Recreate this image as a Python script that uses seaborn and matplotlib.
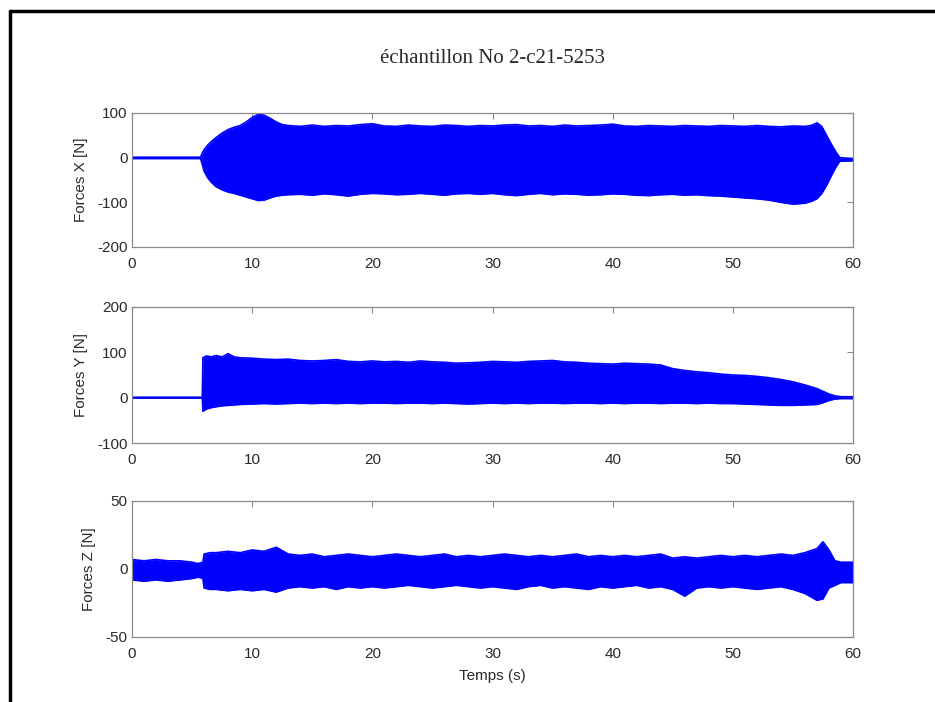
import numpy as np
import pandas as pd
import matplotlib
matplotlib.use("Agg")
import matplotlib.pyplot as plt
import seaborn as sns

# ---------------- data (envelopes) ----------------
title = "échantillon No 2-c21-5253"
xlabel = "Temps (s)"
ylabels = ["Forces X [N]", "Forces Y [N]", "Forces Z [N]"]
xticks = [0, 10, 20, 30, 40, 50, 60]
yticks_x = [-200, -100, 0, 100]
yticks_y = [-100, 0, 100, 200]
yticks_z = [-50, 0, 50]

t_x = [0, 5.7, 5.85, 6.0, 6.3, 6.6,
       7.0, 7.5, 8.0, 8.5, 9.0, 9.5,
       10.0, 10.5, 11.0, 11.5, 12.0, 12.5,
       13, 14, 15, 16, 17, 18, 19, 20, 21, 22, 23, 24, 25, 26, 27, 28, 29, 30,
       31, 32, 33, 34, 35, 36, 37, 38, 39, 40, 41, 42, 43, 44, 45, 46, 47, 48,
       49, 50, 51, 52, 53, 54, 55, 56,
       56.5, 57.0, 57.4, 57.8, 58.2, 58.6, 58.9, 60]
upper_x = [1, 1, 10, 18, 28, 36,
           45, 55, 63, 68, 72, 80,
           90, 97, 95, 88, 80, 74,
           72, 70, 73, 70, 72, 71, 74, 76, 71, 70, 73, 71, 70, 73, 72, 70, 72, 71,
           73, 74, 71, 72, 70, 73, 71, 72, 73, 75, 71, 70, 72, 71, 70, 72, 71, 70,
           72, 71, 70, 72, 70, 69, 71, 70,
           72, 78, 70, 50, 30, 12, 0, -2]
lower_x = [-2, -2, -15, -30, -45, -55,
           -65, -72, -77, -80, -84, -88,
           -92, -96, -95, -90, -86, -84,
           -83, -82, -84, -81, -83, -86, -82, -80, -81, -83, -82, -80, -82, -84, -81, -80, -82, -80,
           -83, -85, -82, -80, -83, -81, -82, -84, -83, -81, -82, -84, -85, -83, -82, -84, -83, -85,
           -86, -88, -90, -92, -95, -100, -104, -102,
           -98, -92, -80, -62, -40, -20, -8, -7]

t_y = [0, 5.85, 5.9, 6.2, 6.6, 7.0, 7.5, 8.0, 8.5,
       9, 10, 11, 12, 13, 14, 15, 16, 17, 18, 19, 20, 21, 22, 23, 24, 25, 26, 27, 28,
       29, 30, 31, 32, 33, 34, 35, 36, 37, 38, 39, 40, 41, 42, 43, 44, 45, 46, 47, 48,
       49, 50, 51, 52, 53, 54, 55, 56, 57,
       57.5, 58, 58.5, 59, 60]
upper_y = [1, 1, 88, 92, 90, 93, 90, 97, 90,
           88, 87, 85, 84, 85, 82, 81, 82, 84, 80, 79, 81, 79, 80, 78, 81, 79, 78, 76, 77,
           78, 80, 79, 78, 80, 81, 82, 79, 78, 76, 75, 74, 76, 75, 74, 72, 64, 60, 57, 55,
           52, 50, 49, 47, 44, 40, 35, 28, 20,
           14, 8, 4, 2, 2]
lower_y = [-1, -1, -30, -25, -22, -20, -18, -17, -16,
           -15, -14, -13, -14, -13, -12, -13, -12, -13, -12, -13, -12, -12, -13, -12, -12, -13, -12, -13, -14,
           -13, -12, -13, -12, -13, -12, -12, -13, -12, -12, -13, -12, -13, -12, -12, -13, -12, -12, -13, -12,
           -13, -13, -14, -15, -16, -17, -17, -16, -15,
           -11, -6, -3, -2, -2]

t_z = [0, 1, 2, 3, 4, 5, 5.5, 5.9, 6.0, 6.5,
       7, 8, 9, 10, 11, 12, 13, 14, 15, 16, 17, 18, 19, 20, 21, 22, 23, 24, 25, 26,
       27, 28, 29, 30, 31, 32, 33, 34, 35, 36, 37, 38, 39, 40, 41, 42, 43, 44, 45, 46,
       47, 48, 49, 50, 51, 52, 53, 54, 55, 56, 57,
       57.5, 58, 58.5, 59, 60]
upper_z = [7, 6, 7, 6, 6, 5, 4, 5, 11, 12,
           12, 13, 12, 14, 13, 16, 11, 10, 11, 9, 10, 11, 10, 9, 10, 11, 10, 9, 10, 11,
           9, 10, 9, 10, 11, 10, 9, 10, 9, 10, 11, 9, 10, 9, 10, 9, 10, 11, 8, 9,
           8, 9, 10, 9, 10, 9, 10, 11, 10, 12, 15,
           20, 14, 6, 5, 5]
lower_z = [-8, -9, -8, -9, -8, -7, -6, -7, -14, -15,
           -15, -16, -15, -16, -15, -17, -14, -13, -14, -13, -15, -13, -14, -13, -14, -13, -12, -13, -14, -13,
           -12, -13, -14, -13, -14, -15, -13, -12, -14, -13, -14, -15, -13, -14, -13, -12, -14, -13, -15, -20,
           -14, -13, -14, -13, -14, -15, -14, -13, -15, -18, -23,
           -22, -14, -12, -10, -10]

panels = [
    (t_x, upper_x, lower_x, ylabels[0], yticks_x),
    (t_y, upper_y, lower_y, ylabels[1], yticks_y),
    (t_z, upper_z, lower_z, ylabels[2], yticks_z),
]

# ---------------- figure ----------------
sns.set_theme(style="white")
plt.rcParams["font.family"] = ["Liberation Sans", "DejaVu Sans"]

W, H = 935, 702
fig = plt.figure(figsize=(W / 100, H / 100), dpi=100)
fig.patch.set_facecolor("white")

# border (visible on left and top of the reference)
fig.add_artist(plt.Line2D([10 / W, 10 / W], [0, 1 - 11 / H], transform=fig.transFigure,
                          color="black", lw=2.5))
fig.add_artist(plt.Line2D([10 / W, 1], [1 - 11 / H, 1 - 11 / H], transform=fig.transFigure,
                          color="black", lw=2.5))

left_px, right_px = 132, 853
tops = [113, 307, 501]
bots = [247, 443, 637]
blue = (0.0, 0.0, 1.0)
spine_col = "#8a8a8a"
txt_col = "#2a2a2a"
fs = 11

for i, (t, up, lo, ylab, yt) in enumerate(panels):
    ax = fig.add_axes([left_px / W, 1 - bots[i] / H,
                       (right_px - left_px) / W, (bots[i] - tops[i]) / H])
    df = pd.DataFrame({"t": t, "upper": up, "lower": lo})
    ax.fill_between(df["t"], df["lower"], df["upper"], color=blue, lw=0)
    sns.lineplot(data=df, x="t", y="upper", ax=ax, color=blue, lw=1.2)
    sns.lineplot(data=df, x="t", y="lower", ax=ax, color=blue, lw=1.2)
    ax.set_xlim(0, 60)
    ax.set_ylim(yt[0], yt[-1])
    ax.set_xticks(xticks)
    ax.set_yticks(yt)
    ax.set_xticklabels([str(v) for v in xticks])
    ax.set_yticklabels([str(v) for v in yt])
    ax.tick_params(axis="both", direction="in", length=4, width=0.8, color=spine_col,
                   top=True, right=True, labelsize=fs, labelcolor=txt_col)
    ax.tick_params(axis="x", pad=7)
    ax.tick_params(axis="y", pad=3)
    for s in ax.spines.values():
        s.set_color(spine_col)
        s.set_linewidth(0.9)
    ax.set_xlabel(xlabel if i == 2 else "", fontsize=fs, color=txt_col, labelpad=6)
    ax.set_ylabel(ylab, fontsize=fs, color=txt_col, labelpad=7)
    ax.set_facecolor("white")
    ax.grid(False)
    if i == 0:
        ax.set_title(title, fontsize=15, family=["Liberation Serif", "DejaVu Serif"],
                     color=txt_col, pad=36)

fig.savefig("out.png", dpi=100, facecolor="white")
